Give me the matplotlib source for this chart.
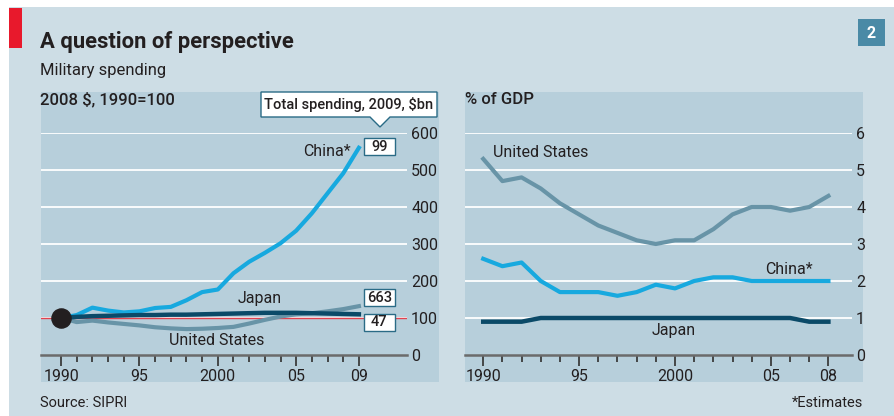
import numpy as np
import matplotlib.pyplot as plt
from matplotlib.patches import Rectangle, Polygon

plt.rcParams['font.family'] = ['Roboto', 'DejaVu Sans']

# ---- data ----
years_idx = list(range(1990, 2010))
china_idx = [100, 108, 128, 120, 115, 118, 127, 130, 148, 170, 177, 221, 252, 276, 302, 336, 383, 437, 491, 560]
japan_idx = [100, 103, 105, 106, 107, 108, 108, 109, 109, 110, 111, 112, 113, 114, 114, 114, 113, 112, 111, 110]
us_idx    = [100, 89, 93, 88, 84, 80, 75, 72, 70, 71, 73, 76, 85, 95, 104, 110, 113, 118, 124, 132]

years_gdp = list(range(1990, 2009))
us_gdp    = [5.3, 4.7, 4.8, 4.5, 4.1, 3.8, 3.5, 3.3, 3.1, 3.0, 3.1, 3.1, 3.4, 3.8, 4.0, 4.0, 3.9, 4.0, 4.3]
china_gdp = [2.6, 2.4, 2.5, 2.0, 1.7, 1.7, 1.7, 1.6, 1.7, 1.9, 1.8, 2.0, 2.1, 2.1, 2.0, 2.0, 2.0, 2.0, 2.0]
japan_gdp = [0.9, 0.9, 0.9, 1.0, 1.0, 1.0, 1.0, 1.0, 1.0, 1.0, 1.0, 1.0, 1.0, 1.0, 1.0, 1.0, 1.0, 0.9, 0.9]

totals_2009 = {'China': '99', 'United States': '663', 'Japan': '47'}

# ---- colours ----
BG = '#cddde5'
PANEL = '#b7cfdb'
C_CHINA = '#17a9df'
C_US = '#6894a7'
C_JAPAN = '#0b4a68'
TXT = '#231f20'
BOXEDGE = '#2a6b86'

W, H = 894, 416
fig = plt.figure(figsize=(W / 100, H / 100), dpi=100)
fig.patch.set_facecolor('white')


def fx(x):
    return x / W


def fy(y):
    return 1 - y / H


def frect(x0, y0, x1, y1, **kw):
    fig.patches.append(Rectangle((fx(x0), fy(y1)), fx(x1) - fx(x0), fy(y0) - fy(y1),
                                 transform=fig.transFigure, **kw))


# backgrounds (behind the axes)
frect(9, 7, W, H, facecolor=BG, edgecolor='none', zorder=-3)
frect(9, 8, 22, 48, facecolor='#e8192c', edgecolor='none', zorder=-2)
frect(41, 92, 439, 382, facecolor=PANEL, edgecolor='none', zorder=-2)
frect(465, 92, 863, 382, facecolor=PANEL, edgecolor='none', zorder=-2)
frect(858, 19, 885, 46, facecolor='#4a8aa6', edgecolor='none', zorder=-2)
fig.text(fx(871.5), fy(33), '2', color='white', fontsize=11.5, fontweight='bold',
         ha='center', va='center')

fig.text(fx(40), fy(48), 'A question of perspective', fontsize=15.8, fontweight='bold',
         color=TXT, va='baseline')
fig.text(fx(40), fy(70), 'Military spending', fontsize=12, color=TXT, va='center')
fig.text(fx(40), fy(100), '2008 $, 1990=100', fontsize=12, fontweight='medium',
         color=TXT, va='center')
fig.text(fx(465), fy(100), '% of GDP', fontsize=12, fontweight='medium',
         color=TXT, va='center')
fig.text(fx(40), fy(403), 'Source: SIPRI', fontsize=10.5, color=TXT, va='center')
fig.text(fx(863), fy(403), '*Estimates', fontsize=10.5, color=TXT, va='center', ha='right')

# callout box
pts = [(261, 92), (437, 92), (437, 117), (390, 117), (380, 127), (370, 117), (261, 117)]
fig.patches.append(Polygon([(fx(a), fy(b)) for a, b in pts], closed=True,
                           transform=fig.transFigure, facecolor='white',
                           edgecolor=BOXEDGE, lw=1.0, zorder=3))
fig.text(fx(349), fy(104.5), 'Total spending, 2009, $bn', fontsize=10.5, fontweight='medium',
         color=TXT, ha='center', va='center', zorder=4)


def style_axes(ax, ymax, yticks, xmaj, xmin_ticks, xlabels):
    ax.set_facecolor('none')
    ax.set_ylim(0, ymax)
    for s in ['top', 'left', 'right']:
        ax.spines[s].set_visible(False)
    ax.spines['bottom'].set_color('#6b6b6b')
    ax.spines['bottom'].set_linewidth(1.8)
    ax.yaxis.tick_right()
    ax.set_yticks(yticks)
    ax.set_yticklabels([str(t) for t in yticks])
    ax.tick_params(axis='y', length=0, pad=3, labelsize=11.5, labelcolor=TXT)
    for t in yticks[1:]:
        ax.axhline(t, color='white', lw=1.3, zorder=1)
    ax.set_xticks(xmaj)
    ax.set_xticklabels(xlabels)
    ax.set_xticks(xmin_ticks, minor=True)
    ax.tick_params(axis='x', which='major', length=8, width=1.3, color='#3c3c3c',
                   labelsize=11.5, labelcolor=TXT, pad=2)
    ax.tick_params(axis='x', which='minor', length=5, width=1.3, color='#3c3c3c')


# ---- left panel ----
ax1 = fig.add_axes([fx(41), fy(355), fx(407) - fx(41), fy(133) - fy(355)])
ax1.set_xlim(1988.72, 2012.07)
style_axes(ax1, 600, [0, 100, 200, 300, 400, 500, 600],
           [1990, 1995, 2000, 2005, 2009], years_idx, ['1990', '95', '2000', '05', '09'])
ax1.axhline(100, color='#e0424f', lw=1.0, zorder=2)
ax1.plot(years_idx, china_idx, color=C_CHINA, lw=3.0, zorder=3)
ax1.plot(years_idx, us_idx, color=C_US, lw=3.0, zorder=4)
ax1.plot(years_idx, japan_idx, color=C_JAPAN, lw=3.2, zorder=5)
ax1.scatter([years_idx[0]], [100], s=190, color=TXT, zorder=6, clip_on=False)

ax1.text(2008.5, 549, 'China*', fontsize=11.5, color=TXT, ha='right', va='center')
ax1.text(2002.7, 154, 'Japan', fontsize=11.5, color=TXT, ha='center', va='center')
ax1.text(1999.9, 38, 'United States', fontsize=11.5, color=TXT, ha='center', va='center')

box_w, box_h = 31 / 15.68, 17 / 0.37
for name, yc in [('China', 563), ('United States', 155), ('Japan', 89)]:
    ax1.add_patch(Rectangle((2010.3 - box_w / 2, yc - box_h / 2), box_w, box_h,
                            facecolor='white', edgecolor=BOXEDGE, lw=1.0,
                            zorder=7, clip_on=False))
    ax1.text(2010.3, yc, totals_2009[name], fontsize=10.5, fontweight='medium', color=TXT,
             ha='center', va='center', zorder=8)

# ---- right panel ----
ax2 = fig.add_axes([fx(465), fy(355), fx(852) - fx(465), fy(133) - fy(355)])
ax2.set_xlim(1989.05, 2009.23)
style_axes(ax2, 6, [0, 1, 2, 3, 4, 5, 6],
           [1990, 1995, 2000, 2005, 2008], years_gdp, ['1990', '95', '2000', '05', '08'])
ax2.plot(years_gdp, china_gdp, color=C_CHINA, lw=3.0, zorder=3)
ax2.plot(years_gdp, us_gdp, color=C_US, lw=3.0, zorder=4)
ax2.plot(years_gdp, japan_gdp, color=C_JAPAN, lw=3.2, zorder=5)

ax2.text(1990.5, 5.46, 'United States', fontsize=11.5, color=TXT, ha='left', va='center')
ax2.text(2007.2, 2.3, 'China*', fontsize=11.5, color=TXT, ha='right', va='center')
ax2.text(1999.95, 0.65, 'Japan', fontsize=11.5, color=TXT, ha='center', va='center')

fig.savefig('out.png', dpi=100)
